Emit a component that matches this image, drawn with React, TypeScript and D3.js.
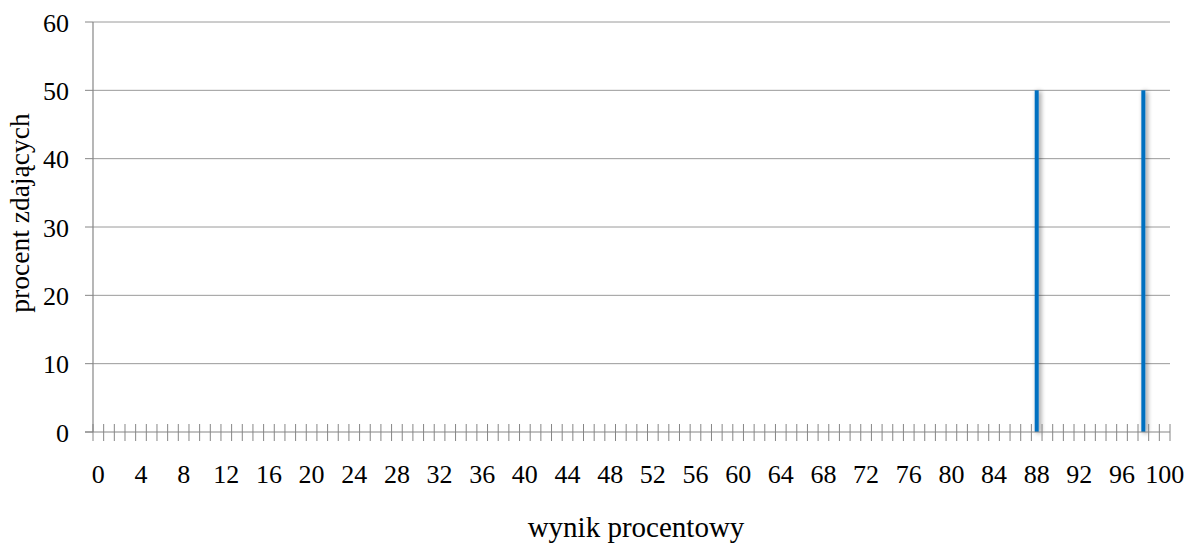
import React from "react";
import * as d3 from "d3";

const categories: number[] = d3.range(0, 101);
const barScores: number[] = [88, 98];
const barValues: number[] = [50, 50];
const yTicks: number[] = [0, 10, 20, 30, 40, 50, 60];
const xLabelEvery = 4;
const yTitle = "procent zdających";
const xTitle = "wynik procentowy";

export default function App() {
  const W = 1190, H = 543;
  const left = 93, right = 1170, top = 22, bottom = 432;
  const x = d3.scaleBand<number>().domain(categories).range([left, right]).padding(0);
  const y = d3.scaleLinear().domain([0, 60]).range([bottom, top]);
  const values = categories.map((c) => {
    const i = barScores.indexOf(c);
    return i >= 0 ? barValues[i] : 0;
  });
  const font = "'Liberation Serif', 'Times New Roman', serif";
  const axisColor = "#868686";
  const bw = 4;
  const fs = 26;
  return (
    <svg width={W} height={H} style={{ position: "absolute", left: 0, top: 0 }} fontFamily={font}>
      <defs>
        <filter id="sh" x="-200%" y="-5%" width="500%" height="110%">
          <feGaussianBlur in="SourceAlpha" stdDeviation="2.5" />
          <feOffset dx="2" dy="1" result="b" />
          <feComponentTransfer>
            <feFuncA type="linear" slope="0.45" />
          </feComponentTransfer>
          <feMerge>
            <feMergeNode />
            <feMergeNode in="SourceGraphic" />
          </feMerge>
        </filter>
      </defs>
      <rect width={W} height={H} fill="#fff" />
      {yTicks.map((t) => (
        <g key={t}>
          {t > 0 && <line x1={left} x2={right} y1={y(t)} y2={y(t)} stroke="#9a9a9a" strokeWidth={1} />}
          <line x1={left - 8} x2={left} y1={y(t)} y2={y(t)} stroke={axisColor} strokeWidth={1} />
          <text x={left - 24} y={y(t) + 9.5} textAnchor="end" fontSize={fs} fill="#000">{t}</text>
        </g>
      ))}
      <line x1={left} x2={left} y1={top} y2={bottom} stroke={axisColor} strokeWidth={1.2} />
      {categories.map((c, i) =>
        values[i] > 0 ? (
          <rect key={c} x={(x(c) as number) + x.bandwidth() / 2 - bw / 2} width={bw}
            y={y(values[i])} height={bottom - y(values[i])} fill="#0070C0" filter="url(#sh)" />
        ) : null
      )}
      <line x1={left - 8} x2={right} y1={bottom} y2={bottom} stroke={axisColor} strokeWidth={1.2} />
      {categories.map((c) => (
        <line key={"t" + c} x1={x(c) as number} x2={x(c) as number} y1={bottom - 8} y2={bottom + 9} stroke={axisColor} strokeWidth={1} />
      ))}
      <line x1={right} x2={right} y1={bottom - 8} y2={bottom + 9} stroke={axisColor} strokeWidth={1} />
      {categories.filter((c) => c % xLabelEvery === 0).map((c) => (
        <text key={"l" + c} x={(x(c) as number) + x.bandwidth() / 2} y={482.5} textAnchor="middle" fontSize={fs} fill="#000">{c}</text>
      ))}
      <text x={636} y={537} textAnchor="middle" fontSize={29} fill="#000">{xTitle}</text>
      <text transform={`translate(29,213) rotate(-90)`} textAnchor="middle" fontSize={27.5} fill="#000">{yTitle}</text>
    </svg>
  );
}
